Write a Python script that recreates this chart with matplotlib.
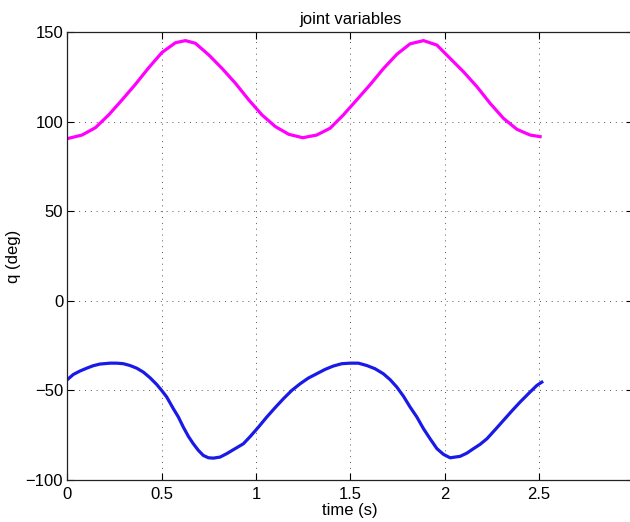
import matplotlib
matplotlib.use('Agg')
import matplotlib.pyplot as plt

# values
t_q1 = [0.0, 0.078, 0.149, 0.219, 0.29, 0.361, 0.431, 0.502, 0.573, 0.626,
        0.679, 0.75, 0.82, 0.891, 0.962, 1.032, 1.103, 1.174, 1.248, 1.322,
        1.393, 1.463, 1.534, 1.605, 1.675, 1.747, 1.817, 1.888, 1.959, 2.029,
        2.1, 2.171, 2.241, 2.312, 2.383, 2.453, 2.506]
q1 = [90.5, 92.5, 96.6, 103.7, 112.1, 120.8, 130.0, 138.6, 144.0, 145.2,
      143.7, 137.2, 129.7, 121.4, 112.1, 103.7, 97.2, 92.9, 91.0, 92.5,
      96.3, 103.7, 112.1, 120.6, 129.5, 137.6, 143.4, 145.2, 142.7, 135.3,
      127.8, 119.5, 110.2, 101.8, 95.7, 92.5, 91.6]

t_q2 = [0.0, 0.032, 0.067, 0.103, 0.138, 0.173, 0.226, 0.262, 0.297, 0.332,
        0.368, 0.403, 0.438, 0.474, 0.5, 0.527, 0.562, 0.589, 0.615, 0.642,
        0.668, 0.695, 0.721, 0.748, 0.774, 0.81, 0.845, 0.88, 0.933, 0.969,
        1.013, 1.057, 1.101, 1.145, 1.19, 1.234, 1.278, 1.322, 1.366, 1.41,
        1.455, 1.499, 1.543, 1.587, 1.631, 1.675, 1.711, 1.747, 1.782, 1.817,
        1.853, 1.888, 1.923, 1.959, 1.994, 2.029, 2.082, 2.118, 2.153, 2.188,
        2.224, 2.268, 2.312, 2.356, 2.4, 2.453, 2.489, 2.515]
q2 = [-44.0, -41.1, -39.2, -37.6, -36.2, -35.3, -34.8, -34.8, -35.1, -36.1,
      -37.6, -39.8, -42.9, -46.7, -50.0, -53.7, -60.2, -64.9, -70.5, -75.7,
      -79.8, -83.5, -86.3, -87.6, -87.8, -87.2, -85.3, -83.1, -79.8, -75.8,
      -70.5, -64.9, -59.7, -54.7, -50.0, -46.3, -43.1, -40.7, -38.3, -36.4,
      -35.1, -34.8, -34.8, -36.1, -37.9, -40.7, -44.0, -48.2, -53.3, -59.3,
      -64.9, -71.4, -77.0, -82.5, -85.7, -87.6, -86.8, -85.0, -82.5, -80.1,
      -77.0, -71.9, -66.7, -61.5, -56.5, -50.9, -47.2, -45.4]

xticks = [0, 0.5, 1, 1.5, 2, 2.5]
xticklabels = ['0', '0.5', '1', '1.5', '2', '2.5']
yticks = [-100, -50, 0, 50, 100, 150]

plt.rcParams['font.family'] = ['Liberation Sans', 'DejaVu Sans']
plt.rcParams['font.size'] = 12

fig = plt.figure(figsize=(6.3, 5.22), dpi=100)
# the right edge of the axes box runs just past the figure, as in the reference
ax = fig.add_axes([67.3 / 630, 42 / 522, 566 / 630, 448 / 522])

ax.plot(t_q1, q1, color='#ff00ff', lw=2.3)
ax.plot(t_q2, q2, color='#1a1ae8', lw=2.3)

ax.set_xlim(0, 3)
ax.set_ylim(-100, 150)
ax.set_xticks(xticks)
ax.set_xticklabels(xticklabels)
ax.set_yticks(yticks)
ax.grid(True, linestyle=(0, (1, 5)), color='#555555', lw=0.7)
ax.tick_params(direction='in', length=5, width=0.8, top=True, right=True, labelsize=12)
ax.tick_params(axis='x', pad=5)
ax.tick_params(axis='y', pad=3)
for s in ax.spines.values():
    s.set_linewidth(0.9)
    s.set_color('#222222')

ax.set_title('joint variables', fontsize=12, pad=6)
ax.set_xlabel('time (s)', fontsize=12, labelpad=1)
ax.set_ylabel('q (deg)', fontsize=12, labelpad=3)

fig.savefig('out.png', dpi=100)
